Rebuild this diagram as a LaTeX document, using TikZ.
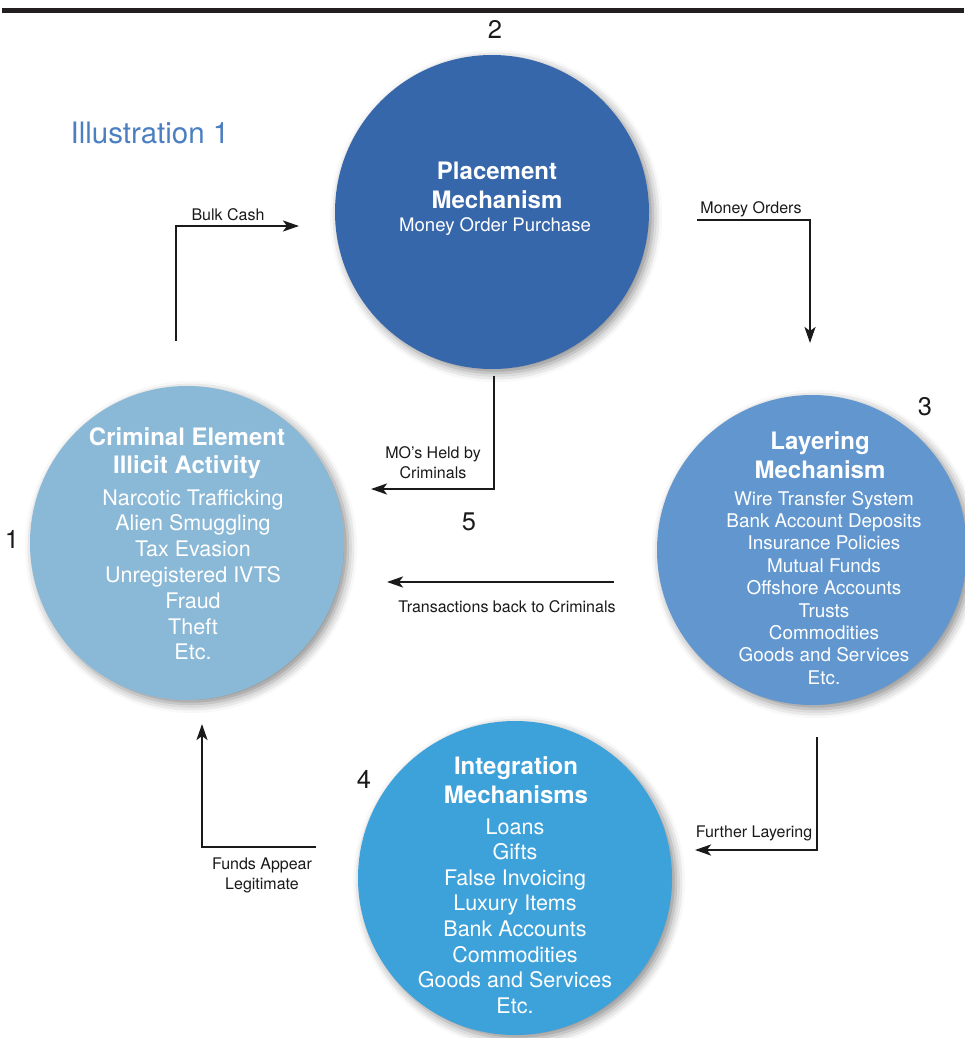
\documentclass[tikz,border=0pt]{standalone}
\usepackage{fontspec}
\setmainfont{TeX Gyre Heros}
\usetikzlibrary{arrows.meta,shadows.blur}
\definecolor{barcol}{HTML}{231F20}
\definecolor{inkcol}{HTML}{1A1A1A}
\definecolor{placecol}{HTML}{3767AB}
\definecolor{crimecol}{HTML}{8AB8D7}
\definecolor{layercol}{HTML}{6196CF}
\definecolor{integcol}{HTML}{3DA1DA}
\definecolor{titlecol}{HTML}{4C7FC1}
\tikzset{
  stage/.style={circle, minimum size=314pt, inner sep=0pt, draw=none,
    blur shadow={shadow xshift=4pt, shadow yshift=-4pt,
      shadow blur radius=9pt, shadow opacity=45}},
  headtxt/.style={anchor=base, inner sep=0pt, text=white,
    font=\fontsize{24}{28}\selectfont\bfseries},
  bodytxt/.style={anchor=base, inner sep=0pt, text=white,
    font=\fontsize{#1}{#1}\selectfont},
  flowlbl/.style={anchor=base, inner sep=0pt, text=inkcol,
    font=\fontsize{16}{18}\selectfont},
  stagenum/.style={anchor=base, inner sep=0pt, text=inkcol,
    font=\fontsize{25.5}{30}\selectfont},
  flow/.style={draw=inkcol, line width=2.4pt,
    -{Stealth[length=16pt,width=11pt,inset=4pt]}}
}
\begin{document}
\begin{tikzpicture}[x=1pt,y=-1pt]
\useasboundingbox (0,0) rectangle (964,1038);
\fill[barcol] (2,8) rectangle (964,13);

% stage circles
\node[stage, fill=placecol] (place) at (492,212) {};
\node[stage, fill=crimecol] (crime) at (187,543) {};
\node[stage, fill=layercol, minimum size=310pt] (layer) at (812,550) {};
\node[stage, fill=integcol] (integ) at (515,878) {};

\node[anchor=base, inner sep=0pt, text=titlecol,
  font=\fontsize{29.5}{34}\selectfont] (illus) at (150,143.5) {Illustration 1};

% stage numbers
\node[stagenum] (n2) at (495,39) {2};
\node[stagenum] (n3) at (925,415) {3};
\node[stagenum] (n1) at (12,548) {1};
\node[stagenum] (n4) at (364,788) {4};
\node[stagenum] (n5) at (469,530) {5};

% placement text
\node[headtxt] (place-h1) at (497,179.5) {Placement};
\node[headtxt] (place-h2) at (497,208.5) {Mechanism};
\node[bodytxt=18.6] (place-b1) at (495,231.5) {Money Order Purchase};

% criminal element text
\node[headtxt] (crime-h1) at (187,445.5) {Criminal Element};
\node[headtxt] (crime-h2) at (187,473.5) {Illicit Activity};
\foreach \t [count=\i from 0] in {Narcotic Trafficking, Alien Smuggling,
  Tax Evasion, Unregistered IVTS, Fraud, Theft, Etc.}
  \node[bodytxt=21.5] (crime-b\i) at (193,505+25.8*\i) {\t};

% layering text
\node[headtxt] (layer-h1) at (820,449.5) {Layering};
\node[headtxt] (layer-h2) at (820,478.5) {Mechanism};
\foreach \t [count=\i from 0] in {Wire Transfer System, Bank Account Deposits,
  Insurance Policies, Mutual Funds, Offshore Accounts, Trusts, Commodities,
  Goods and Services, Etc.}
  \node[bodytxt=18.9] (layer-b\i) at (824,505+22.4*\i) {\t};

% integration text
\node[headtxt] (integ-h1) at (516,774.5) {Integration};
\node[headtxt] (integ-h2) at (516,803.5) {Mechanisms};
\foreach \t [count=\i from 0] in {Loans, Gifts, False Invoicing, Luxury Items,
  Bank Accounts, Commodities, Goods and Services, Etc.}
  \node[bodytxt=21.5] (integ-b\i) at (515,834+25.6*\i) {\t};

% connector end points
\coordinate (bc-s) at (176,341);
\coordinate (bc-c) at (176,226);
\coordinate (bc-e) at (299,226);
\coordinate (mo-s) at (697,220);
\coordinate (mo-c) at (810,220);
\coordinate (mo-e) at (810,343);
\coordinate (held-s) at (494,376);
\coordinate (held-c) at (494,489);
\coordinate (held-e) at (371,489);
\coordinate (back-s) at (614,582);
\coordinate (back-e) at (387,582);
\coordinate (fl-s) at (817,737);
\coordinate (fl-c) at (817,850);
\coordinate (fl-e) at (695,850);
\coordinate (fa-s) at (316,847);
\coordinate (fa-c) at (202,847);
\coordinate (fa-e) at (202,724);

% connectors
\draw[flow] (bc-s) -- (bc-c) -- (bc-e);
\draw[flow] (mo-s) -- (mo-c) -- (mo-e);
\draw[flow] (held-s) -- (held-c) -- (held-e);
\draw[flow] (back-s) -- (back-e);
\draw[flow] (fl-s) -- (fl-c) -- (fl-e);
\draw[flow] (fa-s) -- (fa-c) -- (fa-e);

% connector labels
\node[flowlbl] (lbl-bc) at (228,220) {Bulk Cash};
\node[flowlbl] (lbl-mo) at (751,213) {Money Orders};
\node[flowlbl] (lbl-held1) at (433,458) {MO’s Held by};
\node[flowlbl] (lbl-held2) at (433,478) {Criminals};
\node[flowlbl] (lbl-back) at (507,612) {Transactions back to Criminals};
\node[flowlbl] (lbl-fl) at (754,837) {Further Layering};
\node[flowlbl] (lbl-fa1) at (262,869) {Funds Appear};
\node[flowlbl] (lbl-fa2) at (262,889) {Legitimate};
\end{tikzpicture}
\end{document}
